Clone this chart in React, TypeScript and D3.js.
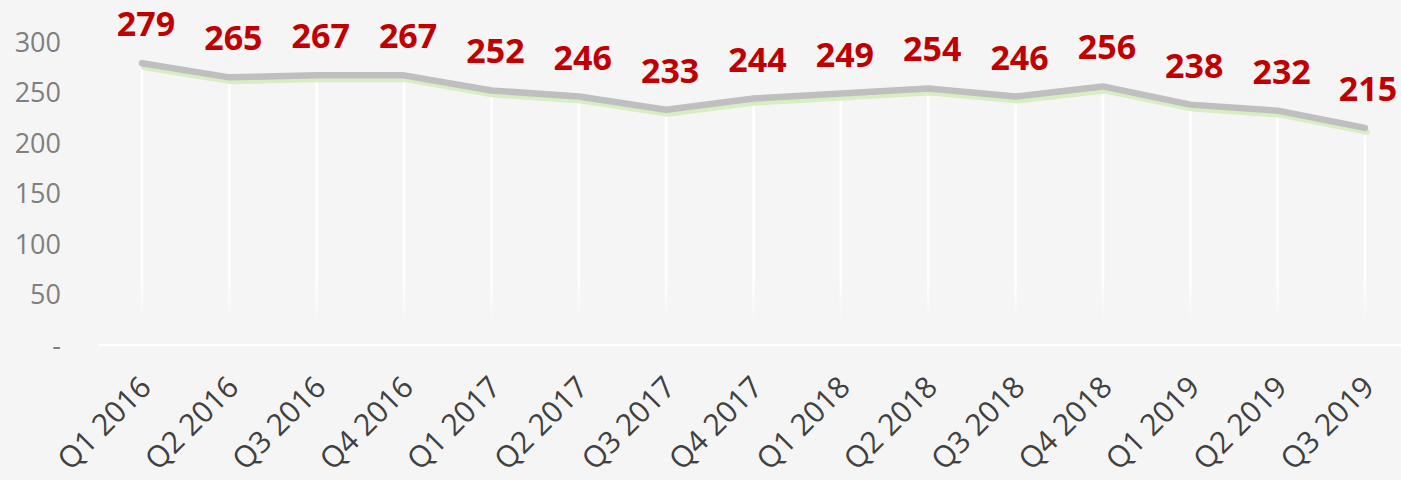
import { useEffect, useRef } from "react";
import * as d3 from "d3";

const quarters = [
  "Q1 2016", "Q2 2016", "Q3 2016", "Q4 2016",
  "Q1 2017", "Q2 2017", "Q3 2017", "Q4 2017",
  "Q1 2018", "Q2 2018", "Q3 2018", "Q4 2018",
  "Q1 2019", "Q2 2019", "Q3 2019",
];
const values = [279, 265, 267, 267, 252, 246, 233, 244, 249, 254, 246, 256, 238, 232, 215];
const yTicks = [0, 50, 100, 150, 200, 250, 300];

const W = 1401;
const H = 480;

const App = () => {
  const ref = useRef<SVGSVGElement | null>(null);

  useEffect(() => {
    const svg = d3.select(ref.current);
    svg.selectAll("*").remove();

    const x = d3.scalePoint<string>().domain(quarters).range([142, 1365]);
    const y = d3.scaleLinear().domain([0, 300]).range([345, 42]);

    svg.append("rect").attr("width", W).attr("height", H).attr("fill", "#f5f5f5");

    const defs = svg.append("defs");
    const grad = defs
      .append("linearGradient")
      .attr("id", "drop")
      .attr("gradientUnits", "userSpaceOnUse")
      .attr("x1", 0).attr("x2", 0)
      .attr("y1", 280).attr("y2", 322);
    grad.append("stop").attr("offset", 0).attr("stop-color", "#ffffff").attr("stop-opacity", 1);
    grad.append("stop").attr("offset", 1).attr("stop-color", "#ffffff").attr("stop-opacity", 0);

    // baseline
    svg.append("line")
      .attr("x1", 99).attr("x2", W)
      .attr("y1", y(0)).attr("y2", y(0))
      .attr("stroke", "#ffffff").attr("stroke-width", 2);

    // y axis labels
    svg.append("g")
      .selectAll("text")
      .data(yTicks)
      .enter()
      .append("text")
      .attr("x", 61)
      .attr("y", (d) => y(d))
      .attr("dy", "0.36em")
      .attr("text-anchor", "end")
      .attr("font-family", "'Open Sans', sans-serif")
      .attr("font-size", 27)
      .attr("fill", "#7f7f7f")
      .text((d) => (d === 0 ? "-" : d3.format("d")(d)));

    // drop lines
    svg.append("g")
      .selectAll("line")
      .data(values)
      .enter()
      .append("line")
      .attr("x1", (_, i) => x(quarters[i])!)
      .attr("x2", (_, i) => x(quarters[i])!)
      .attr("y1", (d) => y(d))
      .attr("y2", 322)
      .attr("stroke", "url(#drop)")
      .attr("stroke-width", 2.5);

    const line = d3
      .line<number>()
      .x((_, i) => x(quarters[i])!)
      .y((d) => y(d));

    svg.append("path")
      .datum(values)
      .attr("d", line)
      .attr("transform", "translate(2,4)")
      .attr("fill", "none")
      .attr("stroke", "#d7eec3")
      .attr("stroke-width", 6)
      .attr("stroke-linecap", "round")
      .attr("stroke-linejoin", "round");

    svg.append("path")
      .datum(values)
      .attr("d", line)
      .attr("fill", "none")
      .attr("stroke", "#bfbfbf")
      .attr("stroke-width", 6.5)
      .attr("stroke-linecap", "round")
      .attr("stroke-linejoin", "round");

    // value labels
    svg.append("g")
      .selectAll("text")
      .data(values)
      .enter()
      .append("text")
      .attr("x", (_, i) => x(quarters[i])! + (i === values.length - 1 ? 3 : 4))
      .attr("y", (d) => y(d) - 27)
      .attr("text-anchor", "middle")
      .attr("font-family", "'Open Sans', sans-serif")
      .attr("font-weight", 700)
      .attr("font-size", 34)
      .attr("fill", "#c00000")
      .text((d) => d);

    // x axis labels
    svg.append("g")
      .selectAll("text")
      .data(quarters)
      .enter()
      .append("text")
      .attr("transform", (d) => `translate(${x(d)! + 11},${389}) rotate(-45)`)
      .attr("text-anchor", "end")
      .attr("font-family", "'Open Sans', sans-serif")
      .attr("font-size", 30)
      .attr("fill", "#404040")
      .text((d) => d);
  }, []);

  return (
    <svg
      ref={ref}
      width={W}
      height={H}
      style={{ position: "absolute", left: 0, top: 0 }}
    />
  );
};

export default App;
